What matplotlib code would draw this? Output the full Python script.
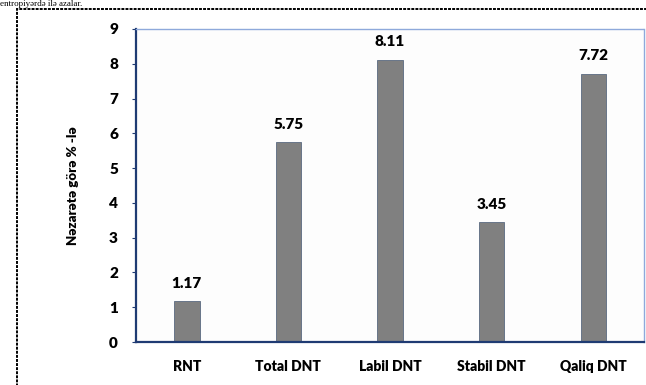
import matplotlib.pyplot as plt
from matplotlib.patches import Rectangle

# Kateqoriyalar və qiymətlər (nəzarətə görə %)
categories = ["RNT", "Total DNT", "Labil DNT", "Stabil DNT", "Qaliq DNT"]
values = [1.17, 5.75, 8.11, 3.45, 7.72]
yticks = list(range(0, 10))

plt.rcParams["font.family"] = ["Lato", "DejaVu Sans"]
BOLD = "heavy"

fig = plt.figure(figsize=(6.46, 3.85), dpi=100)
W, H = 646, 385
ax = fig.add_axes([136 / W, 1 - 342 / H, (644 - 136) / W, (342 - 29) / H])
ax.set_facecolor("#fdfdfd")

x = range(len(categories))
ax.bar(x, values, width=0.25, color="#808080", edgecolor="#5a6a80", linewidth=0.6)

for xi, v in zip(x, values):
    ax.text(xi, v + 0.33, f"{v:.2f}", ha="center", va="bottom",
            fontsize=11, fontweight=BOLD, color="black")

ax.set_xlim(-0.5, len(categories) - 0.5)
ax.set_ylim(0, 9)
ax.set_yticks(yticks)
ax.set_yticklabels([str(t) for t in yticks], fontsize=11, fontweight=BOLD)
ax.set_xticks(list(x))
ax.set_xticklabels(categories, fontsize=10, fontweight=BOLD)
ax.tick_params(axis="x", length=0, pad=13)
ax.tick_params(axis="y", length=3, color="#1f3b73", pad=10)

ax.set_ylabel("Nəzarətə görə % -lə", fontsize=9.5, fontweight=BOLD, labelpad=22)

for side in ["left", "bottom"]:
    ax.spines[side].set_color("#1f3b73")
    ax.spines[side].set_linewidth(1.6)
for side in ["top", "right"]:
    ax.spines[side].set_color("#8ea9db")
    ax.spines[side].set_linewidth(1.0)
    ax.spines[side].set_linestyle((0, (2, 1)))

# Çərçivə
fig.add_artist(Rectangle((17 / W, -0.1), 1.0, 1.1 - 9 / H,
                         transform=fig.transFigure, fill=False,
                         edgecolor="black", linewidth=1.4,
                         linestyle=(0, (1.5, 0.6))))

# Üstdəki mətn sətri
fig.text(0.0, 1.0, "entropiyərdə ilə azalar.", fontsize=6.5,
         family="Liberation Serif", ha="left", va="top")

fig.savefig("out.png", dpi=100)
